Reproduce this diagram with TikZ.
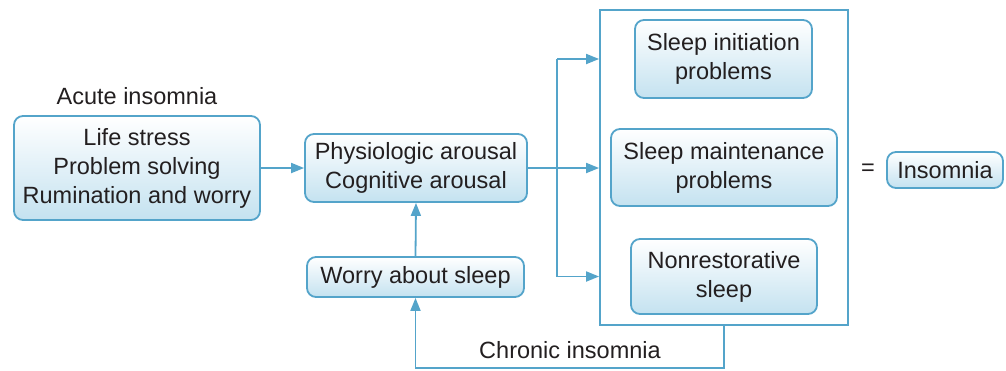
\documentclass[tikz,border=0pt]{standalone}
\usepackage{fontspec}
\setmainfont{Liberation Sans}
\usetikzlibrary{arrows.meta}
\definecolor{lineblue}{RGB}{84,164,202}
\definecolor{fillblue}{RGB}{196,226,240}
\definecolor{txt}{RGB}{35,31,32}
\begin{document}
\begin{tikzpicture}[x=1pt,y=-1pt,
  box/.style={draw=lineblue, line width=1.8pt, rounded corners=9pt, top color=white, bottom color=fillblue, align=center, text=txt, font=\fontsize{23.5}{29}\selectfont, inner sep=0pt},
  lbl/.style={text=txt, font=\fontsize{23.5}{29}\selectfont},
  conn/.style={draw=lineblue, line width=1.8pt},
  arr/.style={conn, -{Triangle[length=13pt,width=10pt]}}]
\useasboundingbox (0,0) rectangle (1006,370);
\node[lbl] (acute) at (137,96) {Acute insomnia};
\node[box, minimum width=246pt, minimum height=104pt] (stress) at (137,168) {Life stress\\Problem solving\\Rumination and worry};
\node[box, minimum width=222pt, minimum height=68pt] (arousal) at (416,168) {Physiologic arousal\\Cognitive arousal};
\node[box, minimum width=217pt, minimum height=40pt] (worry) at (415.5,277) {Worry about sleep};
\node[draw=lineblue, line width=1.8pt, minimum width=248pt, minimum height=315pt, inner sep=0pt] (frame) at (724,167.5) {};
\node[box, minimum width=177pt, minimum height=78pt] (init) at (723.5,59) {Sleep initiation\\problems};
\node[box, minimum width=226pt, minimum height=77pt] (maint) at (724,167.5) {Sleep maintenance\\problems};
\node[box, minimum width=186pt, minimum height=75pt] (nonrest) at (724,276.5) {Nonrestorative\\sleep};
\node[lbl] (eq) at (868,170) {=};
\node[box, minimum width=116pt, minimum height=36pt] (ins) at (945,170) {Insomnia};
\node[lbl] (chronic) at (570,350) {Chronic insomnia};
\coordinate (split) at (557,168);
\coordinate (cb) at (724,368);
\draw[arr] (stress.east) -- (arousal.west);
\draw[arr] (arousal.east) -- (frame.west |- arousal.east);
\draw[arr] (split |- init) -- (frame.west |- init);
\draw[arr] (split) -- (split |- nonrest) -- (frame.west |- nonrest);
\draw[conn] (split) -- (split |- init);
\draw[arr] (worry.north) -- (arousal.south);
\draw[arr] (frame.south -| cb) -- (cb) -- (cb -| worry.south) -- (worry.south);
\end{tikzpicture}
\end{document}
